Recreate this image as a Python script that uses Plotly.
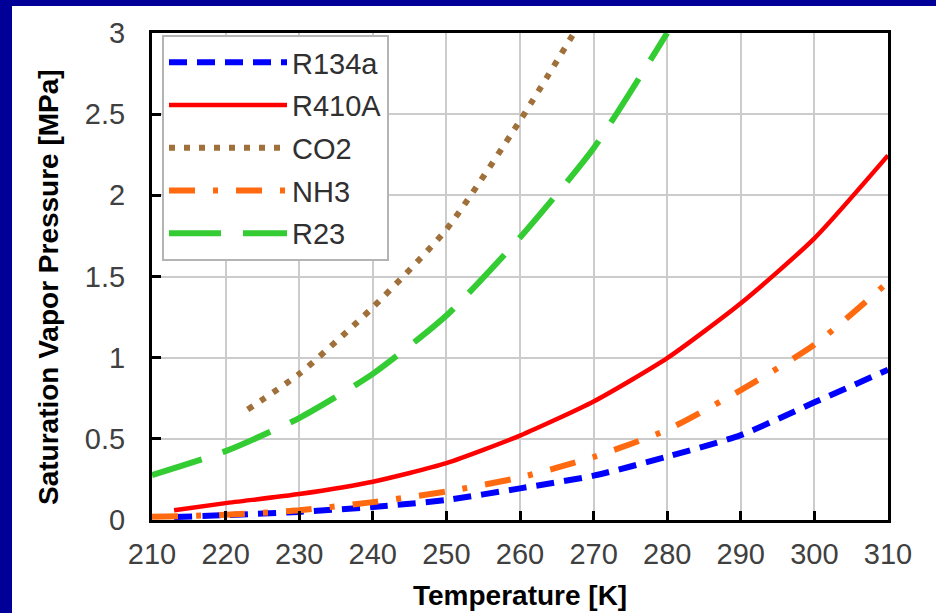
import plotly.graph_objects as go

# ---- data ----
T_r134a = [213, 220, 230, 240, 250, 260, 270, 280, 290, 300, 310]
P_r134a = [0.018, 0.03, 0.05, 0.08, 0.123, 0.195, 0.273, 0.39, 0.523, 0.725, 0.925]

T_r410a = [213, 220, 230, 240, 250, 260, 270, 280, 290, 300, 310]
P_r410a = [0.06, 0.104, 0.16, 0.236, 0.35, 0.52, 0.73, 0.997, 1.335, 1.735, 2.246]

T_co2 = [223, 230, 240, 250, 260, 270]
P_co2 = [0.68, 0.9, 1.31, 1.79, 2.46, 3.2]

T_nh3 = [210, 220, 230, 240, 250, 260, 270, 280, 290, 300, 310]
P_nh3 = [0.02, 0.032, 0.06, 0.11, 0.175, 0.262, 0.388, 0.556, 0.8, 1.08, 1.465]

T_r23 = [210, 220, 230, 240, 250, 260, 270, 280]
P_r23 = [0.277, 0.424, 0.628, 0.9, 1.26, 1.74, 2.29, 3.0]

x_ticks = [210, 220, 230, 240, 250, 260, 270, 280, 290, 300, 310]
y_ticks = [0, 0.5, 1, 1.5, 2, 2.5, 3]
y_tick_text = ["0", "0.5", "1", "1.5", "2", "2.5", "3"]

FONT = "Liberation Sans, Arial, sans-serif"

fig = go.Figure()
series = [
    ("R134a", T_r134a, P_r134a, "#0000ff", 6, "18px,10px"),
    ("R410A", T_r410a, P_r410a, "#ff0000", 4.5, "solid"),
    ("CO2", T_co2, P_co2, "#a0703a", 6, "6px,9px"),
    ("NH3", T_nh3, P_nh3, "#ff6a10", 6, "26px,18px,5px,18px"),
    ("R23", T_r23, P_r23, "#33cc33", 6, "52px,22px"),
]
for i, (name, xs, ys, col, w, dash) in enumerate(series):
    fig.add_trace(go.Scatter(
        x=xs, y=ys, name=name, mode="lines",
        line=dict(color=col, width=w, dash=dash, shape="spline", smoothing=0.6),
        legendgroup=name,
    ))

L, R, Tm, B = 152, 48, 33, 93
W, H = 936, 613
pw, ph = W - L - R, H - Tm - B

def px(xp):
    return (xp - L) / pw

def py(yp):
    return (H - B - yp) / ph

fig.update_layout(
    width=W, height=H,
    margin=dict(l=L, r=R, t=Tm, b=B, autoexpand=False),
    paper_bgcolor="white", plot_bgcolor="white",
    font=dict(family=FONT, size=29, color="#404040"),
    showlegend=True,
    legend=dict(
        x=px(162), y=py(35), xanchor="left", yanchor="top",
        bgcolor="white", bordercolor="#b4b4b4", borderwidth=2,
        font=dict(family=FONT, size=29, color="#303030"),
        itemwidth=118, traceorder="grouped", tracegroupgap=2,
    ),
    xaxis=dict(
        range=[210, 310], tickvals=x_ticks, ticktext=[str(v) for v in x_ticks],
        showgrid=True, gridcolor="#cccccc", gridwidth=1.5,
        showline=True, linecolor="black", linewidth=3, mirror=True,
        ticks="inside", ticklen=9, tickwidth=2.5, tickcolor="black",
        ticklabelstandoff=6, zeroline=False,
    ),
    yaxis=dict(
        range=[0, 3], tickvals=y_ticks, ticktext=y_tick_text,
        showgrid=True, gridcolor="#cccccc", gridwidth=1.5,
        showline=True, linecolor="black", linewidth=3, mirror=True,
        ticks="inside", ticklen=9, tickwidth=2.5, tickcolor="black",
        ticklabelstandoff=18, zeroline=False,
    ),
    annotations=[
        dict(text="<b>Temperature [K]</b>", xref="paper", yref="paper",
             x=px(520), y=py(595), xanchor="center", yanchor="middle",
             showarrow=False, font=dict(family=FONT, size=28, color="black")),
        dict(text="<b>Saturation Vapor Pressure [MPa]</b>", xref="paper", yref="paper",
             x=px(48), y=py(287), xanchor="center", yanchor="middle", textangle=-90,
             showarrow=False, font=dict(family=FONT, size=28, color="black")),
    ],
    shapes=[
        dict(type="rect", xref="paper", yref="paper", x0=px(0), x1=px(W), y0=py(0), y1=py(6),
             fillcolor="#000099", line=dict(width=0), layer="below"),
        dict(type="rect", xref="paper", yref="paper", x0=px(0), x1=px(12), y0=py(0), y1=py(H),
             fillcolor="#000099", line=dict(width=0), layer="below"),
    ],
)

fig.write_html("out.html")
